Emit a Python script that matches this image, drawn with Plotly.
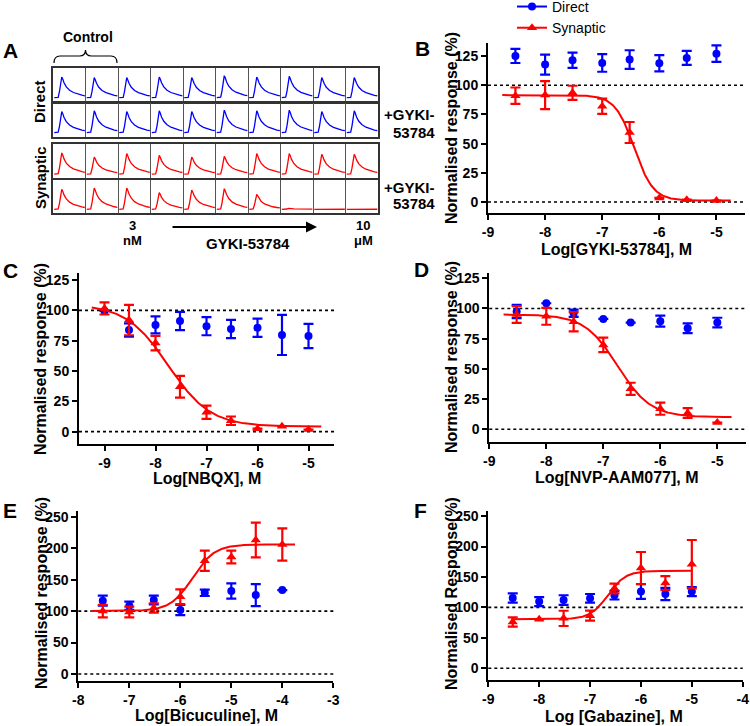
import numpy as np
import plotly.graph_objects as go

W, H = 750, 726
BLUE = '#0000FF'
RED = '#FF0000'
FONT = 'Arial, Liberation Sans, sans-serif'
NAN = float('nan')

# ---------------- Panel A: example traces ----------------
trace_t = [0.03, 0.15, 0.19, 0.23, 0.26, 0.29, 0.33, 0.40, 0.50, 0.62, 0.75, 0.88, 0.97]
trace_shape = [0.0, 0.02, 0.30, 0.80, 1.0, 0.90, 0.72, 0.52, 0.36, 0.25, 0.17, 0.12, 0.09]
trace_base = 0.12
amp_direct = [0.62, 0.60, 0.60, 0.62, 0.60, 0.66, 0.62, 0.64, 0.60, 0.60]
amp_direct_gyki = [0.62, 0.64, 0.62, 0.64, 0.62, 0.66, 0.64, 0.66, 0.62, 0.64]
amp_syn = [0.62, 0.50, 0.60, 0.55, 0.50, 0.52, 0.60, 0.60, 0.58, 0.58]
amp_syn_gyki = [0.60, 0.64, 0.64, 0.50, 0.58, 0.62, 0.45, 0.03, 0.02, 0.02]

# ---------------- Concentration-response data ----------------
x_B = [-8.52, -8, -7.52, -7, -6.52, -6, -5.52, -5]
B_direct = [125, 117.6, 121.3, 119, 121.9, 118.8, 123.3, 127]
B_direct_err = [6, 8.5, 6.5, 7.5, 8, 7, 6, 7]
B_syn = [91, 91.5, 93.5, 82, 59.5, 3.5, 2, 1.2]
B_syn_err = [7, 12, 6, 6.5, 9, NAN, NAN, NAN]
B_fit = dict(bottom=1.2, top=91.5, logx50=-6.44, hill=-2.6, x0=-8.75, x1=-4.75)

x_C = [-9, -8.52, -8, -7.52, -7, -6.52, -6, -5.52, -5]
C_direct = [99.5, 83.8, 88, 91.2, 87, 84.6, 85.7, 79.7, 78.8]
C_direct_err = [NAN, 5.5, 7, 7.5, 7.5, 7.5, 7.5, 16.5, 10]
C_syn = [101.6, 92, 73, 37, 16, 9, 2.5, 4.5, 1.8]
C_syn_err = [5, 12.5, 6, 9, 5.5, 3.5, NAN, NAN, NAN]
C_fit = dict(bottom=4.2, top=105, logx50=-7.75, hill=-1.05, x0=-9.25, x1=-4.75)

x_D = [-8.52, -8, -7.52, -7, -6.52, -6, -5.52, -5]
D_direct = [97.5, 104.3, 96, 91.3, 88.3, 89.5, 83.6, 88.3]
D_direct_err = [5.5, NAN, 3, NAN, NAN, 4.5, 4, 4]
D_syn = [95, 93.5, 89, 69.8, 33.5, 17, 13.5, 5.5]
D_syn_err = [7, 7, 8, 6, 5, 5, 4, NAN]
D_fit = dict(bottom=10, top=95, logx50=-6.75, hill=-1.5, x0=-8.75, x1=-4.75)

x_E = [-7.52, -7, -6.52, -6, -5.52, -5, -4.52, -4]
E_direct = [116.5, 108.6, 117.6, 101.7, 129, 132, 125.5, 133.5]
E_direct_err = [8, 6.5, 7, 8, 5, 12, 17.5, NAN]
E_syn = [100, 98.5, 105, 122.8, 180, 186, 213, 205.8]
E_syn_err = [10, 8.5, 7.5, 11.7, 16, 10, 27.5, 25.7]
E_fit = dict(bottom=100, top=206, logx50=-5.76, hill=2.0, x0=-7.75, x1=-3.75)

x_F = [-8.52, -8, -7.52, -7, -6.52, -6, -5.52, -5]
F_direct = [115.5, 109.5, 112, 115, 120, 126, 122, 126]
F_direct_err = [7.5, 7.5, 8, 7, 7, 12, 10, 7.5]
F_syn = [76, 80.5, 82, 86.4, 131, 164.7, 140, 171]
F_syn_err = [7.6, NAN, 12.5, 8.2, 8, 26.3, 11.5, 39.7]
F_fit = dict(bottom=80.5, top=160, logx50=-6.65, hill=2.5, x0=-8.55, x1=-5.0)


def logistic(x, bottom, top, logx50, hill):
    return bottom + (top - bottom) / (1 + 10 ** ((logx50 - x) * hill))


def xd(p0, p1):
    return [p0 / W, p1 / W]


def yd(p_top, p_bot):
    return [1 - p_bot / H, 1 - p_top / H]


fig = go.Figure()
layout = dict(
    width=W, height=H, margin=dict(l=0, r=0, t=0, b=0, autoexpand=False),
    paper_bgcolor='white', plot_bgcolor='white',
    font=dict(family=FONT, color='black'),
    showlegend=True,
)

# ---------------- data panels ----------------
panels = [
    ('B', 1, (488, 745), (43, 213), (-9, -4.5), (-9.4, 136.1), [-9, -8, -7, -6, -5],
     [0, 25, 50, 75, 100, 125], x_B, B_direct, B_direct_err, B_syn, B_syn_err, B_fit),
    ('C', 2, (79, 334), (273, 443.8), (-9.5, -4.5), (-10, 130.8), [-9, -8, -7, -6, -5],
     [0, 25, 50, 75, 100, 125], x_C, C_direct, C_direct_err, C_syn, C_syn_err, C_fit),
    ('D', 3, (489.3, 745.8), (272.7, 441.7), (-9, -4.5), (-10.3, 129.6), [-9, -8, -7, -6, -5],
     [0, 25, 50, 75, 100, 125], x_D, D_direct, D_direct_err, D_syn, D_syn_err, D_fit),
    ('E', 4, (78.3, 333.3), (510.7, 680.7), (-8, -3), (-10.6, 259.6), [-8, -7, -6, -5, -4, -3],
     [0, 50, 100, 150, 200, 250], x_E, E_direct, E_direct_err, E_syn, E_syn_err, E_fit),
    ('F', 5, (488.3, 742.7), (510.7, 680), (-9, -4), (-19.2, 258.8), [-9, -8, -7, -6, -5, -4],
     [0, 50, 100, 150, 200, 250], x_F, F_direct, F_direct_err, F_syn, F_syn_err, F_fit),
]

tickfont = dict(family=FONT, size=14, color='black', weight='bold')
shapes = []
for (name, i, px, py, xr, yr, xt, yt, xs, dv, de, sv, se, fit) in panels:
    sfx = '' if i == 1 else str(i)
    common = dict(showline=True, linewidth=2, linecolor='black', ticks='outside',
                  ticklen=5, tickwidth=2, tickcolor='black', tickfont=tickfont,
                  showgrid=False, zeroline=False)
    layout['xaxis' + sfx] = dict(domain=xd(*px), range=list(xr), anchor='y' + sfx,
                                 tickvals=xt, ticktext=[str(v) for v in xt], **common)
    layout['yaxis' + sfx] = dict(domain=yd(*py), range=list(yr), anchor='x' + sfx,
                                 tickvals=yt, ticktext=[str(v) for v in yt], **common)
    for yv in (0, 100):
        shapes.append(dict(type='line', xref='x' + sfx + ' domain', yref='y' + sfx,
                           x0=0, x1=1, y0=yv, y1=yv, layer='below',
                           line=dict(color='black', width=1.6, dash='dot')))
    xa, ya = 'x' + sfx, 'y' + sfx
    fig.add_trace(go.Scatter(
        x=xs, y=dv, mode='markers', xaxis=xa, yaxis=ya, showlegend=False,
        marker=dict(color=BLUE, size=8, symbol='circle'),
        error_y=dict(type='data', array=de, color=BLUE, thickness=2.2, width=5)))
    xf = np.linspace(fit['x0'], fit['x1'], 300)
    fig.add_trace(go.Scatter(
        x=xf, y=logistic(xf, fit['bottom'], fit['top'], fit['logx50'], fit['hill']),
        mode='lines', xaxis=xa, yaxis=ya, showlegend=False,
        line=dict(color=RED, width=2)))
    fig.add_trace(go.Scatter(
        x=xs, y=sv, mode='markers', xaxis=xa, yaxis=ya, showlegend=False,
        marker=dict(color=RED, size=9, symbol='triangle-up'),
        error_y=dict(type='data', array=se, color=RED, thickness=2.2, width=5)))

# legend entries
fig.add_trace(go.Scatter(x=[None], y=[None], mode='lines+markers', name='Direct',
                         xaxis='x', yaxis='y', marker=dict(color=BLUE, size=8, symbol='circle'),
                         line=dict(color=BLUE, width=2)))
fig.add_trace(go.Scatter(x=[None], y=[None], mode='lines+markers', name='Synaptic',
                         xaxis='x', yaxis='y', marker=dict(color=RED, size=9, symbol='triangle-up'),
                         line=dict(color=RED, width=2)))

# ---------------- Panel A ----------------
rows = [
    (6, (68.3, 101.7), amp_direct, BLUE),
    (7, (102.7, 136.7), amp_direct_gyki, BLUE),
    (8, (144, 178.3), amp_syn, RED),
    (9, (180, 213.3), amp_syn_gyki, RED),
]
for (i, py, amps, col) in rows:
    sfx = str(i)
    layout['xaxis' + sfx] = dict(domain=xd(53.3, 378.3), range=[0, 10], anchor='y' + sfx,
                                 showline=True, mirror=True, linewidth=1.5, linecolor='#333',
                                 showgrid=True, gridcolor='#555', gridwidth=1,
                                 tickvals=list(range(1, 10)), showticklabels=False,
                                 ticks='', zeroline=False)
    layout['yaxis' + sfx] = dict(domain=yd(*py), range=[0, 1], anchor='x' + sfx,
                                 showline=True, mirror=True, linewidth=1.5, linecolor='#333',
                                 showgrid=False, showticklabels=False, ticks='', zeroline=False)
    xs, ys = [], []
    for c, a in enumerate(amps):
        xs += [c + t for t in trace_t] + [None]
        ys += [trace_base + a * s for s in trace_shape] + [None]
    fig.add_trace(go.Scatter(x=xs, y=ys, mode='lines', xaxis='x' + sfx, yaxis='y' + sfx,
                             showlegend=False, line=dict(color=col, width=1.3)))


# brace over "Control"
def P(px, py):
    return f'{px / W:.5f},{1 - py / H:.5f}'


x0b, x1b, xm = 54, 117, 85.5
yb, ym, yt_ = 63, 56, 50
brace = (f'M {P(x0b, yb)} Q {P(x0b, ym)} {P(x0b + 6, ym)} L {P(xm - 6, ym)} '
         f'Q {P(xm, ym)} {P(xm, yt_)} Q {P(xm, ym)} {P(xm + 6, ym)} '
         f'L {P(x1b - 6, ym)} Q {P(x1b, ym)} {P(x1b, yb)}')
shapes.append(dict(type='path', xref='paper', yref='paper', path=brace,
                   line=dict(color='black', width=1.2)))
layout['shapes'] = shapes

# ---------------- annotations ----------------
anns = []


def ann(text, px, py, size, bold=True, angle=0, xanchor='center'):
    anns.append(dict(text=text, x=px / W, y=1 - py / H, xref='paper', yref='paper',
                     showarrow=False, xanchor=xanchor, yanchor='middle', textangle=angle,
                     font=dict(family=FONT, size=size, color='black',
                               weight='bold' if bold else 'normal')))


for letter, px, py in [('A', 10, 51), ('B', 423, 48), ('C', 10, 270), ('D', 421, 269),
                       ('E', 10, 510), ('F', 420, 510)]:
    ann(letter, px, py, 21)

ann('Control', 88, 37, 14)
ann('Direct', 40, 102, 15, angle=-90)
ann('Synaptic', 40, 178, 15, angle=-90)
ann('+GYKI-', 409, 114, 15)
ann('53784', 414, 132, 15)
ann('+GYKI-', 409, 188, 15)
ann('53784', 414, 204, 15)
ann('3', 132, 226, 13)
ann('nM', 132, 240, 13)
ann('10', 363, 226, 13)
ann('μM', 363, 240, 13)
ann('GYKI-53784', 248, 243, 15)
anns.append(dict(x=317 / W, y=1 - 227 / H, xref='paper', yref='paper', text='',
                 showarrow=True, arrowhead=2, arrowsize=1, arrowwidth=2.2, arrowcolor='black',
                 ax=-146, ay=0))

# axis titles
ann('Normalised response (%)', 451, 128, 16, angle=-90)
ann('Normalised response (%)', 41, 359, 16, angle=-90)
ann('Normalised response (%)', 451, 357, 16, angle=-90)
ann('Normalised response (%)', 41, 593, 16, angle=-90)
ann('Normalised Response(%)', 451, 594, 16, angle=-90)
ann('Log[GYKI-53784], M', 616, 249, 16)
ann('Log[NBQX], M', 207, 479, 16)
ann('Log[NVP-AAM077], M', 617, 477, 16)
ann('Log[Bicuculine], M', 206, 715, 16)
ann('Log [Gabazine], M', 614, 716, 16)
layout['annotations'] = anns

layout['legend'] = dict(x=512 / W, y=1.0125, xanchor='left', yanchor='top',
                        font=dict(family=FONT, size=14, color='black'),
                        bgcolor='rgba(0,0,0,0)', itemwidth=30, tracegroupgap=0)

fig.update_layout(**layout)
fig.write_html('out.html', config={'displayModeBar': False},
               post_script="document.body.style.margin='0px';")
